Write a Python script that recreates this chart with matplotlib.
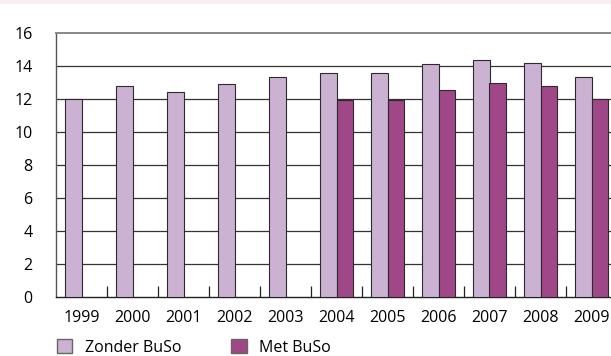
import numpy as np
import matplotlib
matplotlib.use("Agg")
import matplotlib.pyplot as plt
from matplotlib.patches import Rectangle

years = ["1999", "2000", "2001", "2002", "2003", "2004", "2005", "2006", "2007", "2008", "2009"]
zonder = [12.0, 12.75, 12.4, 12.88, 13.32, 13.56, 13.56, 14.09, 14.37, 14.15, 13.3]
met = [np.nan, np.nan, np.nan, np.nan, np.nan, 11.95, 11.95, 12.53, 12.96, 12.76, 12.0]
yticks = [0, 2, 4, 6, 8, 10, 12, 14, 16]
labels = ["Zonder BuSo", "Met BuSo"]

c_zonder = "#cbb2d3"
c_met = "#a04788"

plt.rcParams['font.family'] = ['Open Sans', 'DejaVu Sans']

W, H = 611, 356
fig = plt.figure(figsize=(W / 100, H / 100), dpi=100)
fig.patches.append(Rectangle((0, 1 - 4 / H), 1, 4 / H, transform=fig.transFigure,
                             facecolor="#f8edf3", edgecolor="none", zorder=0))

left_px, right_px, top_px, bot_px = 56, 617, 32.7, 297.3
ax = fig.add_axes([left_px / W, (H - bot_px) / H, (right_px - left_px) / W, (bot_px - top_px) / H])

x = np.arange(len(years))
w = 0.333
ax.bar(x - w / 2, zonder, width=w, color=c_zonder, edgecolor="#2b2b2b", linewidth=0.8,
       label=labels[0], zorder=3)
ax.bar(x + w / 2, met, width=w, color=c_met, edgecolor="#2b2b2b", linewidth=0.8,
       label=labels[1], zorder=3)

ax.set_xlim(-0.5, len(years) - 0.5)
ax.set_ylim(0, 16)
ax.set_yticks(yticks)
ax.set_yticklabels([str(v) for v in yticks], fontsize=11.5)
ax.tick_params(axis='y', length=0, pad=17)
ax.set_xticks(x)
ax.set_xticklabels(years, fontsize=11.5)
ax.tick_params(axis='x', which='major', length=0, pad=9)
ax.set_xticks(np.arange(0.5, len(years) - 0.5, 1), minor=True)
ax.tick_params(axis='x', which='minor', direction='in', length=8, width=0.9, color="#222222")

for v in yticks[1:-1]:
    ax.axhline(v, color="#333333", linewidth=0.9, zorder=1)

ax.spines["right"].set_visible(False)
ax.spines["top"].set_color("#888888")
ax.spines["top"].set_linewidth(1.4)
ax.spines["left"].set_color("#555555")
ax.spines["left"].set_linewidth(1.0)
ax.spines["bottom"].set_color("#222222")
ax.spines["bottom"].set_linewidth(1.0)

leg = fig.legend(loc="lower left", bbox_to_anchor=(47 / W, -0.026), ncol=2, frameon=False,
                 fontsize=11.5, handlelength=0.95, handleheight=0.95, handletextpad=0.8,
                 columnspacing=3.15, borderaxespad=0.2)
for h in leg.legend_handles:
    h.set_edgecolor("#666666")
    h.set_linewidth(1.0)

fig.savefig("out.png", dpi=100)
